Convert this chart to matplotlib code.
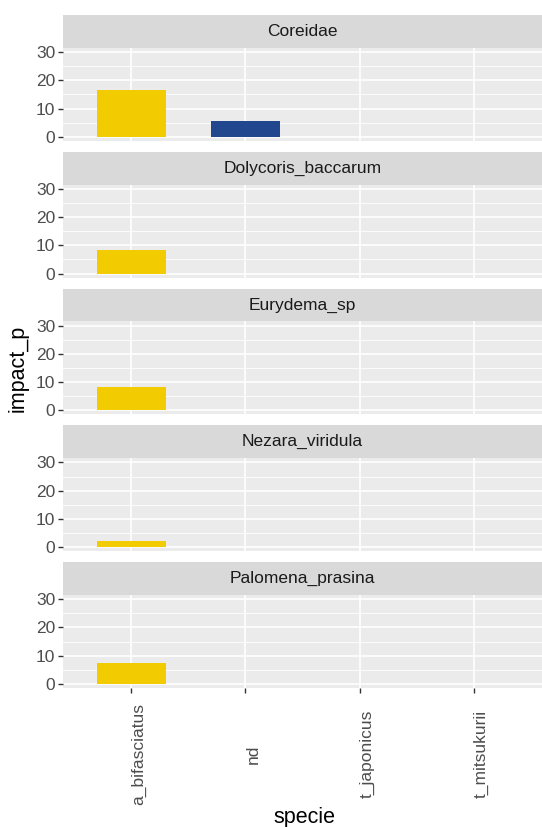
import matplotlib
matplotlib.use("Agg")
import matplotlib.pyplot as plt
import numpy as np

plt.rcParams['font.family'] = ['Liberation Sans', 'DejaVu Sans']

# Data: impact_p per specie, one facet per bug family
species = ["a_bifasciatus", "nd", "t_japonicus", "t_mitsukurii"]
families = ["Coreidae", "Dolycoris_baccarum", "Eurydema_sp",
            "Nezara_viridula", "Palomena_prasina"]
coreidae = [16.5, 5.5, 0, 0]
dolycoris_baccarum = [8.2, 0, 0, 0]
eurydema_sp = [8.4, 0, 0, 0]
nezara_viridula = [2.1, 0, 0, 0]
palomena_prasina = [7.2, 0, 0, 0]
values = [coreidae, dolycoris_baccarum, eurydema_sp,
          nezara_viridula, palomena_prasina]
species_colors = ["#F2CB00", "#21488F", "#4A9A6B", "#B03A2E"]
y_ticks = [0, 10, 20, 30]

W, H = 542, 827
fig = plt.figure(figsize=(W / 100, H / 100), dpi=100)
fig.patch.set_facecolor("white")

left_px, right_px = 63, 542
top0, period, strip_h, plot_h = 15, 136.75, 33, 93
x = np.arange(len(species))

def fx(px):
    return px / W

def fy(px):
    return 1 - px / H

for i, (fam, vals) in enumerate(zip(families, values)):
    s_top = top0 + i * period
    # facet strip
    sax = fig.add_axes([fx(left_px), fy(s_top + strip_h),
                        fx(right_px - left_px), strip_h / H])
    sax.set_facecolor("#D9D9D9")
    sax.set_xticks([]); sax.set_yticks([])
    for sp in sax.spines.values():
        sp.set_visible(False)
    sax.text(0.5, 0.5, fam, ha="center", va="center", fontsize=12.5,
             color="#1A1A1A", transform=sax.transAxes)

    # panel
    p_top = s_top + strip_h
    ax = fig.add_axes([fx(left_px), fy(p_top + plot_h),
                       fx(right_px - left_px), plot_h / H])
    ax.set_facecolor("#EBEBEB")
    for sp in ax.spines.values():
        sp.set_visible(False)
    ax.set_xlim(-0.6, len(species) - 0.4)
    ax.set_ylim(-1.5, 31.5)
    ax.set_yticks(y_ticks)
    ax.set_yticks([5, 15, 25], minor=True)
    ax.set_xticks(x)
    ax.grid(True, which="major", color="white", linewidth=1.2, zorder=0)
    ax.grid(True, which="minor", axis="y", color="white", linewidth=0.6, zorder=0)
    ax.set_axisbelow(True)
    ax.tick_params(axis="y", which="major", length=3.5, width=1.0,
                   color="#333333", labelsize=12.5, labelcolor="#4D4D4D", pad=2)
    ax.tick_params(axis="y", which="minor", length=0)
    ax.bar(x, vals, width=0.6, color=species_colors, zorder=2)
    if i < len(families) - 1:
        ax.tick_params(axis="x", length=0, labelbottom=False)
    else:
        ax.tick_params(axis="x", length=3.5, width=1.0, color="#333333",
                       labelsize=12.5, labelcolor="#4D4D4D", pad=44)
        ax.set_xticklabels(species, rotation=90, ha="left", va="center")

# axis titles
fig.text(fx(18), fy(368), "impact_p", rotation=90, ha="center", va="center",
         fontsize=15.5, color="black")
fig.text(fx(304), fy(818), "specie", ha="center", va="center",
         fontsize=15.5, color="black")

fig.savefig("out.png", dpi=100)
